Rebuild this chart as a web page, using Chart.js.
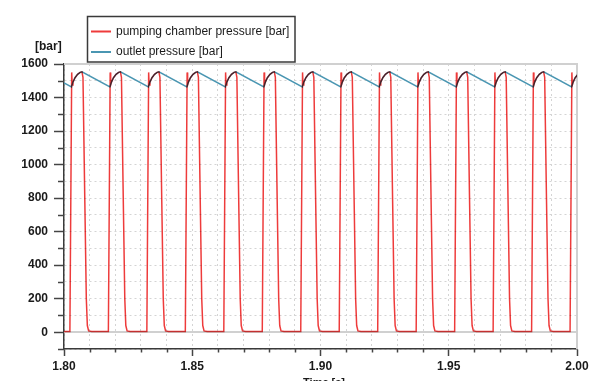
<!DOCTYPE html>
<html><head><meta charset="utf-8">
<script src="https://cdn.jsdelivr.net/npm/chart.js@4.4.1/dist/chart.umd.min.js"></script>
<style>html,body{margin:0;padding:0;background:#fff;overflow:hidden}canvas{display:block}</style>
</head><body>
<canvas id="c" width="603" height="381"></canvas>
<script>
// ---- data ----
const seriesNames = ['pumping chamber pressure [bar]', 'outlet pressure [bar]'];
const timeRange = [1.80, 2.00];
const pressureRange = [-100, 1600];
const xTickLabels = ['1.80', '1.85', '1.90', '1.95', '2.00'];
const yTickLabels = ['0', '200', '400', '600', '800', '1000', '1200', '1400', '1600'];
const yAxisUnit = '[bar]';
const xAxisTitle = '\u2192 Time [s]';

// times [s] at which each pump stroke starts (chamber pressure leaves ~0 bar)
const strokeStarts = [1.8023, 1.8173, 1.8323, 1.8473, 1.8623, 1.8773, 1.8923,
                      1.9073, 1.9223, 1.9373, 1.9523, 1.9673, 1.9823, 1.9973];

// pumping chamber pressure over one stroke: time after stroke start [s], value [bar]
const chamberOffsets = [0.0000, 0.0007, 0.0009, 0.0012, 0.0020, 0.0030, 0.0040, 0.0047, 0.0051, 0.0058, 0.0064, 0.0068, 0.0073, 0.0085];
const chamberValues  = [4,      1550,   1475,   1492,   1518,   1538,   1550,   1553,   1520,   800,    200,    40,     8,      4];
const chamberAtStart = 4;      // value at t = 1.80 s

// outlet pressure over one stroke: time after stroke start [s], value [bar]
// (falls in a straight line from the peak to the next minimum)
const outletOffsets = [0.0006, 0.0012, 0.0020, 0.0030, 0.0040, 0.0047];
const outletValues  = [1463,   1492,   1518,   1538,   1550,   1553];
const outletAtStart = 1487;    // value at t = 1.80 s

// ---- build point tables for the library ----
function buildPoints(startValue, offsets, values) {
  const pts = [{x: timeRange[0], y: startValue}];
  strokeStarts.forEach(t0 => {
    offsets.forEach((dt, i) => pts.push({x: +(t0 + dt).toFixed(5), y: values[i]}));
  });
  return pts;
}
const chamberPoints = buildPoints(chamberAtStart, chamberOffsets, chamberValues);
const outletPoints = buildPoints(outletAtStart, outletOffsets, outletValues);

const RED = '#ee3b3b';
const BLUE = '#4a96b2';
const FONT = 'Liberation Sans, Arial, sans-serif';

const decor = {
  id: 'decor',
  beforeDatasetsDraw(chart) {
    const {ctx, chartArea: a, scales: {y}} = chart;
    ctx.save();
    ctx.strokeStyle = '#d0d0d0';
    ctx.lineWidth = 2;
    const y0 = Math.round(y.getPixelForValue(0));
    ctx.beginPath(); ctx.moveTo(a.left, y0); ctx.lineTo(a.right, y0); ctx.stroke();
    ctx.beginPath(); ctx.moveTo(a.left, a.top); ctx.lineTo(a.right, a.top); ctx.lineTo(a.right, a.bottom); ctx.stroke();
    ctx.restore();
  },
  beforeDatasetDraw(chart, args) {
    chart.ctx.save();
    if (args.index === 0) chart.ctx.globalCompositeOperation = 'multiply';
  },
  afterDatasetDraw(chart) { chart.ctx.restore(); },
  afterDraw(chart) {
    const {ctx, chartArea: a, scales: {x, y}} = chart;
    ctx.save();
    // minor ticks
    ctx.strokeStyle = '#444'; ctx.lineWidth = 1.5;
    y.ticks.forEach(t => {
      if (Math.round(t.value) % 200 !== 0) {
        const py = Math.round(y.getPixelForValue(t.value)) + 0.5;
        ctx.beginPath(); ctx.moveTo(a.left - 6, py); ctx.lineTo(a.left, py); ctx.stroke();
      }
    });
    x.ticks.forEach(t => {
      if (Math.round(t.value * 100) % 5 !== 0) {
        const px = Math.round(x.getPixelForValue(t.value)) + 0.5;
        ctx.beginPath(); ctx.moveTo(px, a.bottom); ctx.lineTo(px, a.bottom + 3.5); ctx.stroke();
      }
    });
    // unit label and axis title
    ctx.fillStyle = '#1a1a1a';
    ctx.font = 'bold 12px ' + FONT;
    ctx.textBaseline = 'middle'; ctx.textAlign = 'left';
    ctx.fillText(yAxisUnit, 35, 47);
    ctx.font = 'bold 11px ' + FONT;
    ctx.textBaseline = 'top';
    ctx.fillText(xAxisTitle, 289, 377);
    // legend
    const lx = 87.5, ly = 16.5, lw = 207.5, lh = 45.5;
    ctx.fillStyle = '#fff';
    ctx.fillRect(lx, ly, lw, lh);
    ctx.strokeStyle = '#3a3a3a'; ctx.lineWidth = 1.5;
    ctx.strokeRect(lx, ly, lw, lh);
    ctx.font = '12px ' + FONT;
    ctx.textBaseline = 'middle';
    chart.data.datasets.forEach((ds, i) => {
      const yy = 31.5 + i * 20.5;
      ctx.strokeStyle = ds.borderColor; ctx.lineWidth = 2;
      ctx.beginPath(); ctx.moveTo(91, yy); ctx.lineTo(111, yy); ctx.stroke();
      ctx.fillStyle = '#1a1a1a';
      ctx.fillText(ds.label, 116, yy);
    });
    ctx.restore();
  }
};

new Chart(document.getElementById('c'), {
  type: 'line',
  data: {
    datasets: [
      {label: seriesNames[0], data: chamberPoints, borderColor: RED, borderWidth: 1.5, pointRadius: 0, tension: 0, fill: false},
      {label: seriesNames[1], data: outletPoints, borderColor: BLUE, borderWidth: 1.5, pointRadius: 0, tension: 0, fill: false}
    ]
  },
  options: {
    responsive: false,
    animation: false,
    devicePixelRatio: 1,
    layout: {padding: {top: 64, right: 26, left: 0, bottom: 0}},
    plugins: {legend: {display: false}, tooltip: {enabled: false}, title: {display: false}},
    scales: {
      x: {
        type: 'linear', min: timeRange[0], max: timeRange[1],
        afterFit(s) { s.height = 32; },
        border: {display: true, color: '#3a3a3a', width: 1.5, dash: [2, 3]},
        grid: {
          color: '#d4d4d4', lineWidth: 1, drawTicks: true, tickLength: 7, tickWidth: 1.5,
          tickColor: c => (Math.round(c.tick.value * 100) % 5 === 0 ? '#444' : 'rgba(0,0,0,0)')
        },
        ticks: {
          stepSize: 0.01, maxTicksLimit: 100, autoSkip: false, maxRotation: 0, padding: 3,
          color: '#1a1a1a', font: {family: FONT, size: 12, weight: 'bold'},
          callback: v => { const k = Math.round(v * 100); return k % 5 === 0 ? xTickLabels[(k - 180) / 5] : ''; }
        }
      },
      y: {
        type: 'linear', min: pressureRange[0], max: pressureRange[1],
        afterFit(s) { s.width = 64; },
        border: {display: true, color: '#3a3a3a', width: 1.5, dash: [2, 3]},
        grid: {
          color: '#d4d4d4', lineWidth: 1, drawTicks: true, tickLength: 10, tickWidth: 1.5,
          tickColor: c => (Math.round(c.tick.value) % 200 === 0 ? '#444' : 'rgba(0,0,0,0)')
        },
        ticks: {
          stepSize: 100, maxTicksLimit: 100, autoSkip: false, padding: 6,
          color: '#1a1a1a', font: {family: FONT, size: 12, weight: 'bold'},
          callback: v => { const k = Math.round(v); return (k >= 0 && k % 200 === 0) ? yTickLabels[k / 200] : ''; }
        }
      }
    }
  },
  plugins: [decor]
});
</script>
</body></html>
